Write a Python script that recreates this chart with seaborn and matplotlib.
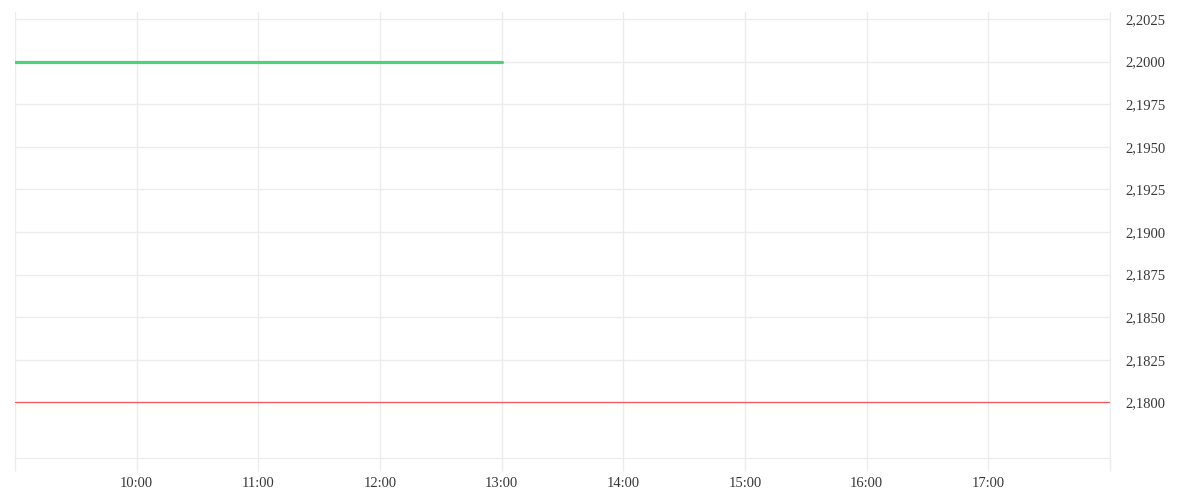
import pandas as pd
import numpy as np
import matplotlib
matplotlib.use('Agg')
import matplotlib.pyplot as plt
from matplotlib.ticker import FuncFormatter
import seaborn as sns

# Données
times = ['09:00', '10:00', '11:00', '12:00', '13:00']
prices = [2.2000, 2.2000, 2.2000, 2.2000, 2.2000]
prev_close = 2.1800
session_start = '09:00'
session_end = '18:00'
y_ticks = [2.1800, 2.1825, 2.1850, 2.1875, 2.1900, 2.1925, 2.1950, 2.1975, 2.2000, 2.2025]

day = '2024-01-02 '
data = pd.DataFrame({'time': pd.to_datetime([day + t for t in times]), 'price': prices})
t0 = pd.to_datetime(day + session_start)
t1 = pd.to_datetime(day + session_end)

sns.set_style('white')
plt.rcParams['font.family'] = ['Liberation Serif', 'DejaVu Serif']

grid_color = '#ececec'
text_color = '#383838'

fig = plt.figure(figsize=(12, 5), dpi=100)
ax = fig.add_axes([15 / 1200, 42 / 500, 1095 / 1200, 446 / 500])

sns.lineplot(data=data, x='time', y='price', ax=ax, color='#4fd17a', linewidth=2.3)
ax.axhline(prev_close, color='#f7555f', linewidth=0.9)

ax.set_xlim(t0, t1)
ax.set_ylim(2.17674, 2.20291)

# axe des x : une graduation par heure, libellés de 10:00 à 17:00
hours = pd.date_range(t0, t1, freq='h')
ax.set_xticks(hours)
ax.set_xticklabels(['' if h in (t0, t1) else h.strftime('%H:%M') for h in hours])
ax.tick_params(axis='x', bottom=True, length=9, width=1, color=grid_color,
               labelcolor=text_color, labelsize=10.5, pad=5)

ax.yaxis.tick_right()
ax.set_yticks(y_ticks)
ax.yaxis.set_major_formatter(FuncFormatter(lambda v, p: f'{v:.4f}'.replace('.', ',')))
ax.tick_params(axis='y', length=0, labelsize=10.5, labelcolor=text_color, pad=11)

ax.grid(True, color=grid_color, linewidth=1)
for side in ['top', 'left']:
    ax.spines[side].set_visible(False)
ax.spines['bottom'].set_color(grid_color)
ax.spines['right'].set_color(grid_color)
ax.set_xlabel('')
ax.set_ylabel('')

fig.savefig('out.png', dpi=100)
